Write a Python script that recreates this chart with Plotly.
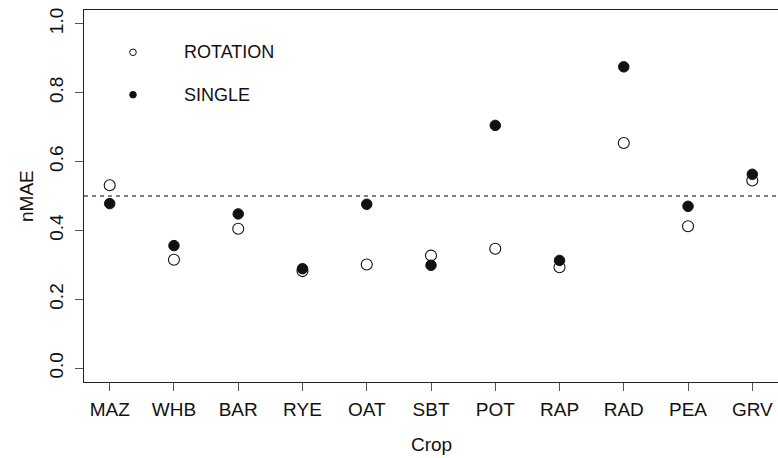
import plotly.graph_objects as go

crops = ["MAZ", "WHB", "BAR", "RYE", "OAT", "SBT", "POT", "RAP", "RAD", "PEA", "GRV"]
rotation = [0.531, 0.315, 0.405, 0.282, 0.301, 0.327, 0.347, 0.293, 0.654, 0.412, 0.545]
single = [0.478, 0.356, 0.448, 0.289, 0.476, 0.299, 0.705, 0.313, 0.875, 0.470, 0.563]
y_ticks = [0.0, 0.2, 0.4, 0.6, 0.8, 1.0]
threshold = 0.5
legend_labels = ["ROTATION", "SINGLE"]

FONT = "Liberation Sans, Arial, Helvetica, sans-serif"
TXT = "#111111"
xpos = list(range(1, len(crops) + 1))

fig = go.Figure()
fig.add_trace(go.Scatter(
    x=xpos, y=rotation, mode="markers", name=legend_labels[0],
    marker=dict(symbol="circle", size=11, color="white",
                line=dict(color="#111111", width=1.1)),
    showlegend=False))
fig.add_trace(go.Scatter(
    x=xpos, y=single, mode="markers", name=legend_labels[1],
    marker=dict(symbol="circle", size=10.5, color="#111111",
                line=dict(color="#111111", width=1)),
    showlegend=False))

# dashed reference line
fig.add_shape(type="line", xref="paper", x0=0, x1=1, yref="y", y0=threshold, y1=threshold,
              line=dict(color="#000000", width=1, dash="4px,4px"))

# legend (drawn manually, R-style)
leg_x = 0.0706
leg_text_x = 0.1412
leg_ys = [0.8863, 0.7723]
fills = ["white", "#111111"]
for ly, fc, lab in zip(leg_ys, fills, legend_labels):
    fig.add_shape(type="circle", xref="paper", yref="paper",
                  xsizemode="pixel", ysizemode="pixel",
                  xanchor=leg_x, yanchor=ly, x0=-3.3, x1=3.3, y0=-3.3, y1=3.3,
                  fillcolor=fc, line=dict(color="#111111", width=1))
    fig.add_annotation(x=leg_text_x, y=ly, xref="paper", yref="paper",
                       text=lab, showarrow=False, xanchor="left", yanchor="middle",
                       font=dict(family=FONT, size=18, color=TXT))

# axis titles
fig.add_annotation(x=0.5, y=0, xref="paper", yref="paper", text="Crop",
                   showarrow=False, xanchor="center", yanchor="middle", yshift=-62,
                   font=dict(family=FONT, size=19, color=TXT))
fig.add_annotation(x=0, y=0.5, xref="paper", yref="paper", text="nMAE",
                   showarrow=False, xanchor="center", yanchor="middle", xshift=-58,
                   textangle=-90, font=dict(family=FONT, size=19, color=TXT))

fig.update_xaxes(range=[0.6, len(crops) + 0.4], tickmode="array", tickvals=xpos,
                 ticktext=crops, ticks="outside", ticklen=8, tickcolor="#555555",
                 tickwidth=1, showgrid=False, zeroline=False, showline=True,
                 linecolor="#222222", linewidth=1, mirror=True,
                 ticklabelstandoff=2,
                 tickfont=dict(family=FONT, size=19, color=TXT))
fig.update_yaxes(range=[-0.04, 1.04], tickmode="array", tickvals=y_ticks,
                 ticktext=[f"{v:.1f}" for v in y_ticks], ticks="outside", ticklen=8,
                 tickcolor="#555555", tickwidth=1, showgrid=False, zeroline=False,
                 showline=True, linecolor="#222222", linewidth=1, mirror=True,
                 tickangle=-90, ticklabelstandoff=4,
                 tickfont=dict(family=FONT, size=19, color=TXT))

fig.update_layout(width=778, height=458, autosize=False,
                  margin=dict(l=84, r=0, t=10, b=76),
                  paper_bgcolor="white", plot_bgcolor="white",
                  showlegend=False)

fig.write_html("out.html")
